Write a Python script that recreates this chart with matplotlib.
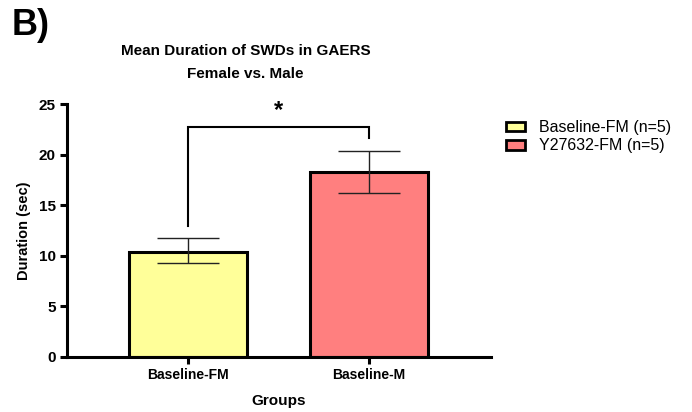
import matplotlib.pyplot as plt
import numpy as np

plt.rcParams['font.family'] = ['Liberation Sans', 'DejaVu Sans']

groups = ["Baseline-FM", "Baseline-M"]
legend_labels = ["Baseline-FM (n=5)", "Y27632-FM (n=5)"]
means = [10.4, 18.3]
err_low = [1.1, 2.1]
err_high = [1.4, 2.1]
colors = ['#FFFF99', '#FF7F7F']
title_lines = ["Mean Duration of SWDs in GAERS", "Female vs. Male"]

fig = plt.figure(figsize=(6.92, 4.12), dpi=100)
ax = fig.add_axes([0.0968, 0.1342, 0.6127, 0.6126])

index = np.arange(len(groups))
bars = ax.bar(index, means, 0.65, color=colors, edgecolor='black', linewidth=2.2,
              zorder=2)
ax.errorbar(index, means, yerr=[err_low, err_high], fmt='none', ecolor='#222222',
            elinewidth=1.0, capsize=22, capthick=1.0, zorder=3)

# significance bracket
ax.plot([0, 0, 1, 1], [12.9, 22.8, 22.8, 21.7], color='black', linewidth=1.5,
        solid_joinstyle='miter', zorder=3)
ax.text(0.5, 23.2, '*', ha='center', va='bottom', fontsize=17, fontweight='bold')

ax.set_xlim(-0.668, 1.674)
ax.set_ylim(0, 25)
ax.set_yticks([0, 5, 10, 15, 20, 25])
ax.set_xticks(index)
ax.set_xticklabels(groups, fontsize=10, fontweight='bold')
for lab in ax.get_yticklabels():
    lab.set_fontsize(11)
    lab.set_fontweight('bold')
ax.tick_params(axis='both', direction='out', length=5, width=2.2, pad=3)

for s in ['top', 'right']:
    ax.spines[s].set_visible(False)
for s in ['left', 'bottom']:
    ax.spines[s].set_linewidth(2.2)

ax.set_ylabel('Duration (sec)', fontsize=10.5, fontweight='bold', labelpad=6)
ax.set_xlabel('Groups', fontsize=11, fontweight='bold', labelpad=9)

fig.text(0.355, 0.8665, title_lines[0], ha='center', va='baseline',
         fontsize=11, fontweight='bold')
fig.text(0.355, 0.8107, title_lines[1], ha='center', va='baseline',
         fontsize=11, fontweight='bold')
fig.text(0.017, 0.915, 'B)', ha='left', va='baseline', fontsize=26, fontweight='bold')

handles = [plt.Rectangle((0, 0), 1, 1, facecolor=c, edgecolor='black', linewidth=2)
           for c in colors]
fig.legend(handles, legend_labels, loc='upper left', bbox_to_anchor=(0.71, 0.743),
           frameon=False, fontsize=11.5, handlelength=1.2, handleheight=0.55,
           labelspacing=0.2, handletextpad=0.9)

fig.savefig('out.png', dpi=100)
